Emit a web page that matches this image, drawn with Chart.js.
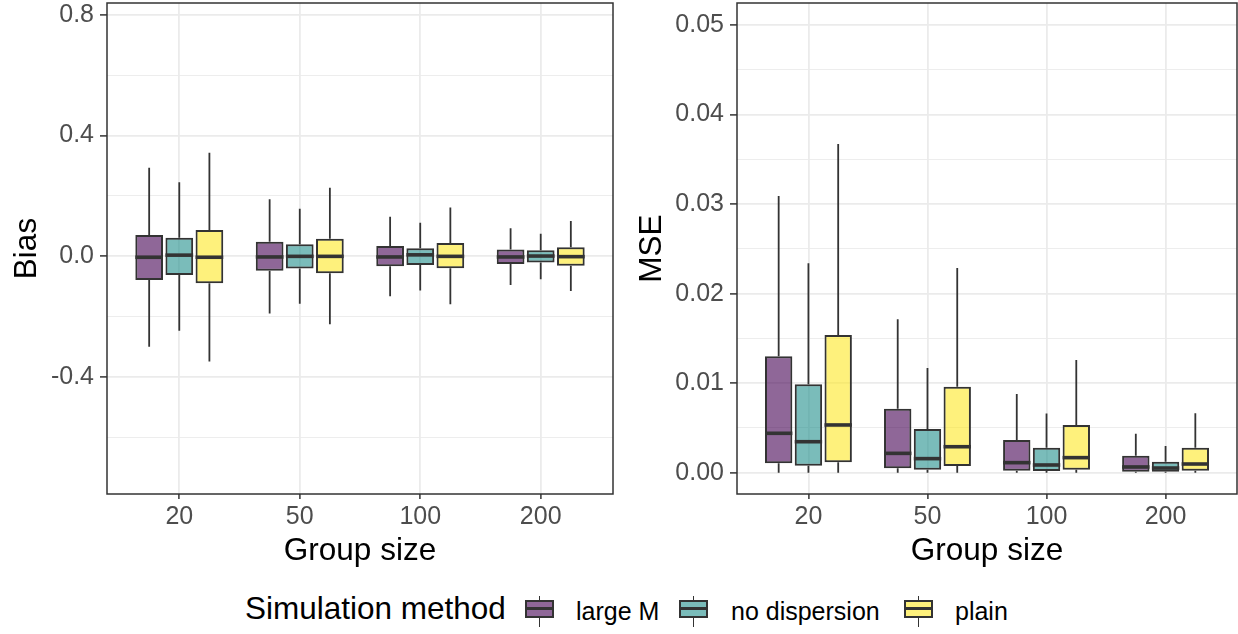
<!DOCTYPE html>
<html><head><meta charset="utf-8">
<script src="https://cdn.jsdelivr.net/npm/chart.js@4.4.0/dist/chart.umd.min.js"></script>
<style>
html,body{margin:0;padding:0;background:#fff;}
body{width:1238px;height:634px;position:relative;overflow:hidden;font-family:"Liberation Sans",Arial,sans-serif;}
#w1{position:absolute;left:0;top:0;width:620px;height:570px;}
#w2{position:absolute;left:620px;top:0;width:618px;height:570px;}
.lt{position:absolute;white-space:nowrap;color:#000;line-height:1;}
.key{position:absolute;top:595.7px;width:29px;height:31px;}
.key .w{position:absolute;left:13.6px;top:0;width:1.8px;height:31px;background:#333;}
.key .b{position:absolute;left:0;top:4.3px;width:29px;height:18.3px;box-sizing:border-box;border:2px solid #333;}
.key .m{position:absolute;left:0;top:11.8px;width:29px;height:3px;background:#333;}
</style>
</head><body>
<div id="w1"><canvas id="c1" width="620" height="570"></canvas></div>
<div id="w2"><canvas id="c2" width="618" height="570"></canvas></div>
<div id="legend"></div>
<script>
// ---- data ----
const categories = ['20', '50', '100', '200'];
const methods = ['large M', 'no dispersion', 'plain'];
const methodColors = ['#440154', '#21908C', '#FDE725'];
const boxAlpha = 0.6;

// each entry: [lower whisker, Q1, median, Q3, upper whisker]
const biasLargeM = [[-0.299,-0.0785,-0.003,0.0705,0.293],[-0.189,-0.048,-0.002,0.048,0.189],[-0.132,-0.033,-0.002,0.034,0.131],[-0.095,-0.025,-0.002,0.023,0.093]];
const biasNoDisp = [[-0.246,-0.062,0.004,0.062,0.245],[-0.157,-0.040,0.000,0.040,0.158],[-0.113,-0.029,0.005,0.027,0.111],[-0.076,-0.020,0.001,0.020,0.075]];
const biasPlain  = [[-0.348,-0.089,-0.003,0.087,0.343],[-0.225,-0.056,0.000,0.058,0.227],[-0.159,-0.039,0.000,0.044,0.162],[-0.115,-0.031,-0.001,0.030,0.117]];

const mseLargeM = [[0,0.00105,0.0044,0.0130,0.0309],[0,0.00049,0.00216,0.00715,0.01713],[0,0.00022,0.00112,0.00365,0.00879],[0,0.00011,0.00064,0.0019,0.00436]];
const mseNoDisp = [[0,0.00078,0.00346,0.00987,0.0234],[0,0.00034,0.00157,0.00488,0.01169],[0,0.00019,0.00086,0.00279,0.0066],[0,0.0001,0.00052,0.00123,0.00298]];
const msePlain  = [[0,0.00116,0.00533,0.01538,0.0367],[0,0.00075,0.0029,0.0096,0.02286],[0,0.00034,0.00168,0.00533,0.01259],[0,0.00022,0.00097,0.00279,0.00664]];

const biasMajorTicks = [-0.4, 0, 0.4, 0.8];
const biasTickLabels = ['-0.4', '0.0', '0.4', '0.8'];
const biasMinorTicks = [-0.6, -0.2, 0.2, 0.6];
const biasRange = [-0.787, 0.839];

const mseMajorTicks = [0, 0.01, 0.02, 0.03, 0.04, 0.05];
const mseTickLabels = ['0.00', '0.01', '0.02', '0.03', '0.04', '0.05'];
const mseMinorTicks = [0.005, 0.015, 0.025, 0.035, 0.045];
const mseRange = [-0.00238, 0.05246];

// ---- helpers ----
function rgba(hex, a) {
  const n = parseInt(hex.slice(1), 16);
  return 'rgba(' + ((n >> 16) & 255) + ',' + ((n >> 8) & 255) + ',' + (n & 255) + ',' + a + ')';
}
function blendWhite(hex, a) {
  const n = parseInt(hex.slice(1), 16);
  const c = [(n >> 16) & 255, (n >> 8) & 255, n & 255].map(v => Math.round(v * a + 255 * (1 - a)));
  return 'rgb(' + c.join(',') + ')';
}
const near = (a, b) => Math.abs(a - b) < 1e-9;

Chart.defaults.font.family = '"Liberation Sans", Arial, sans-serif';

const boxPlugin = {
  id: 'boxExtras',
  beforeDatasetsDraw(chart) {
    const ctx = chart.ctx, ys = chart.scales.y;
    ctx.save();
    ctx.strokeStyle = '#333333';
    ctx.lineWidth = 1.8;
    chart.data.datasets.forEach((ds, i) => {
      const meta = chart.getDatasetMeta(i);
      meta.data.forEach((el, j) => {
        const s = ds.stats[j];
        ctx.beginPath();
        ctx.moveTo(el.x, ys.getPixelForValue(s[3]));
        ctx.lineTo(el.x, ys.getPixelForValue(s[4]));
        ctx.moveTo(el.x, ys.getPixelForValue(s[1]));
        ctx.lineTo(el.x, ys.getPixelForValue(s[0]));
        ctx.stroke();
      });
    });
    ctx.restore();
  },
  afterDatasetsDraw(chart) {
    const ctx = chart.ctx, ys = chart.scales.y;
    ctx.save();
    ctx.strokeStyle = '#333333';
    ctx.lineWidth = 3.6;
    chart.data.datasets.forEach((ds, i) => {
      const meta = chart.getDatasetMeta(i);
      meta.data.forEach((el, j) => {
        const y = ys.getPixelForValue(ds.stats[j][2]);
        ctx.beginPath();
        ctx.moveTo(el.x - el.width / 2, y);
        ctx.lineTo(el.x + el.width / 2, y);
        ctx.stroke();
      });
    });
    ctx.restore();
  },
  afterDraw(chart) {
    const ctx = chart.ctx, a = chart.chartArea;
    ctx.save();
    ctx.strokeStyle = '#333333';
    ctx.lineWidth = 1.5;
    ctx.strokeRect(a.left, a.top, a.right - a.left, a.bottom - a.top);
    ctx.restore();
  }
};

function makeChart(id, seriesList, range, majors, labels, minors, yTitle, yWidth, padRight, yTitlePad) {
  const allTicks = majors.concat(minors).sort((a, b) => a - b);
  const isMajor = v => majors.some(m => near(m, v));
  const datasets = seriesList.map((stats, i) => ({
    label: methods[i],
    stats: stats,
    data: stats.map((s, j) => ({ x: j + 1, y: [s[1], s[3]] })),
    backgroundColor: rgba(methodColors[i], boxAlpha),
    borderColor: '#333333',
    borderWidth: 2,
    borderSkipped: false,
    categoryPercentage: 0.75,
    barPercentage: 0.92
  }));
  return new Chart(document.getElementById(id), {
    type: 'bar',
    data: { datasets: datasets },
    plugins: [boxPlugin],
    options: {
      responsive: false,
      animation: false,
      devicePixelRatio: 1,
      layout: { padding: { top: 3, right: padRight, left: 0, bottom: 0 } },
      plugins: { legend: { display: false }, tooltip: { enabled: false } },
      scales: {
        x: {
          type: 'linear',
          offset: false,
          min: 0.4, max: 4.6,
          afterBuildTicks: s => { s.ticks = categories.map((c, i) => ({ value: i + 1 })); },
          afterFit: s => { s.height = 76; s.paddingLeft = 0; s.paddingRight = 0; },
          ticks: {
            callback: v => categories[Math.round(v) - 1],
            color: '#4D4D4D',
            font: { size: 25, lineHeight: 1.2 },
            padding: 3,
            maxRotation: 0,
            autoSkip: false
          },
          grid: { color: '#EBEBEB', lineWidth: 1.8, drawTicks: true, tickLength: 5, tickColor: '#333333', tickWidth: 1.5, offset: false },
          border: { display: false },
          title: { display: true, text: 'Group size', color: '#000', font: { size: 31.5, lineHeight: 1.2 }, padding: { top: 0, bottom: 0 } }
        },
        y: {
          type: 'linear',
          min: range[0], max: range[1],
          afterBuildTicks: s => { s.ticks = allTicks.map(v => ({ value: v })); },
          afterFit: s => { s.width = yWidth; s.paddingTop = 0; s.paddingBottom = 0; },
          ticks: {
            callback: v => { const k = majors.findIndex(m => near(m, v)); return k >= 0 ? labels[k] : ''; },
            color: '#4D4D4D',
            font: { size: 25, lineHeight: 1.2 },
            padding: 6,
            autoSkip: false
          },
          grid: {
            color: '#EBEBEB',
            lineWidth: c => (c.tick && isMajor(c.tick.value)) ? 1.8 : 0.9,
            tickColor: c => (c.tick && isMajor(c.tick.value)) ? '#333333' : 'rgba(0,0,0,0)',
            tickLength: 7,
            tickWidth: 1.5
          },
          border: { display: false },
          title: { display: true, text: yTitle, color: '#000', font: { size: 31.5, lineHeight: 1.2 }, padding: { top: yTitlePad, bottom: 0 } }
        }
      }
    }
  });
}

makeChart('c1', [biasLargeM, biasNoDisp, biasPlain], biasRange, biasMajorTicks, biasTickLabels, biasMinorTicks, 'Bias', 107, 7, 8);
makeChart('c2', [mseLargeM, mseNoDisp, msePlain], mseRange, mseMajorTicks, mseTickLabels, mseMinorTicks, 'MSE', 117, 1, 13);

// ---- legend (HTML) ----
const legendTitle = 'Simulation method';
const keyLefts = [525, 679, 904];
const labelLefts = [576, 731, 955];
const leg = document.getElementById('legend');
const t = document.createElement('div');
t.className = 'lt';
t.style.cssText = 'left:245px;top:593.3px;font-size:31.5px;';
t.textContent = legendTitle;
leg.appendChild(t);
methods.forEach((m, i) => {
  const k = document.createElement('div');
  k.className = 'key';
  k.style.left = keyLefts[i] + 'px';
  k.innerHTML = '<div class="w"></div><div class="b" style="background:' + blendWhite(methodColors[i], boxAlpha) + '"></div><div class="m"></div>';
  leg.appendChild(k);
  const l = document.createElement('div');
  l.className = 'lt';
  l.style.cssText = 'left:' + labelLefts[i] + 'px;top:598.8px;font-size:25px;';
  l.textContent = m;
  leg.appendChild(l);
});
</script>
</body></html>
